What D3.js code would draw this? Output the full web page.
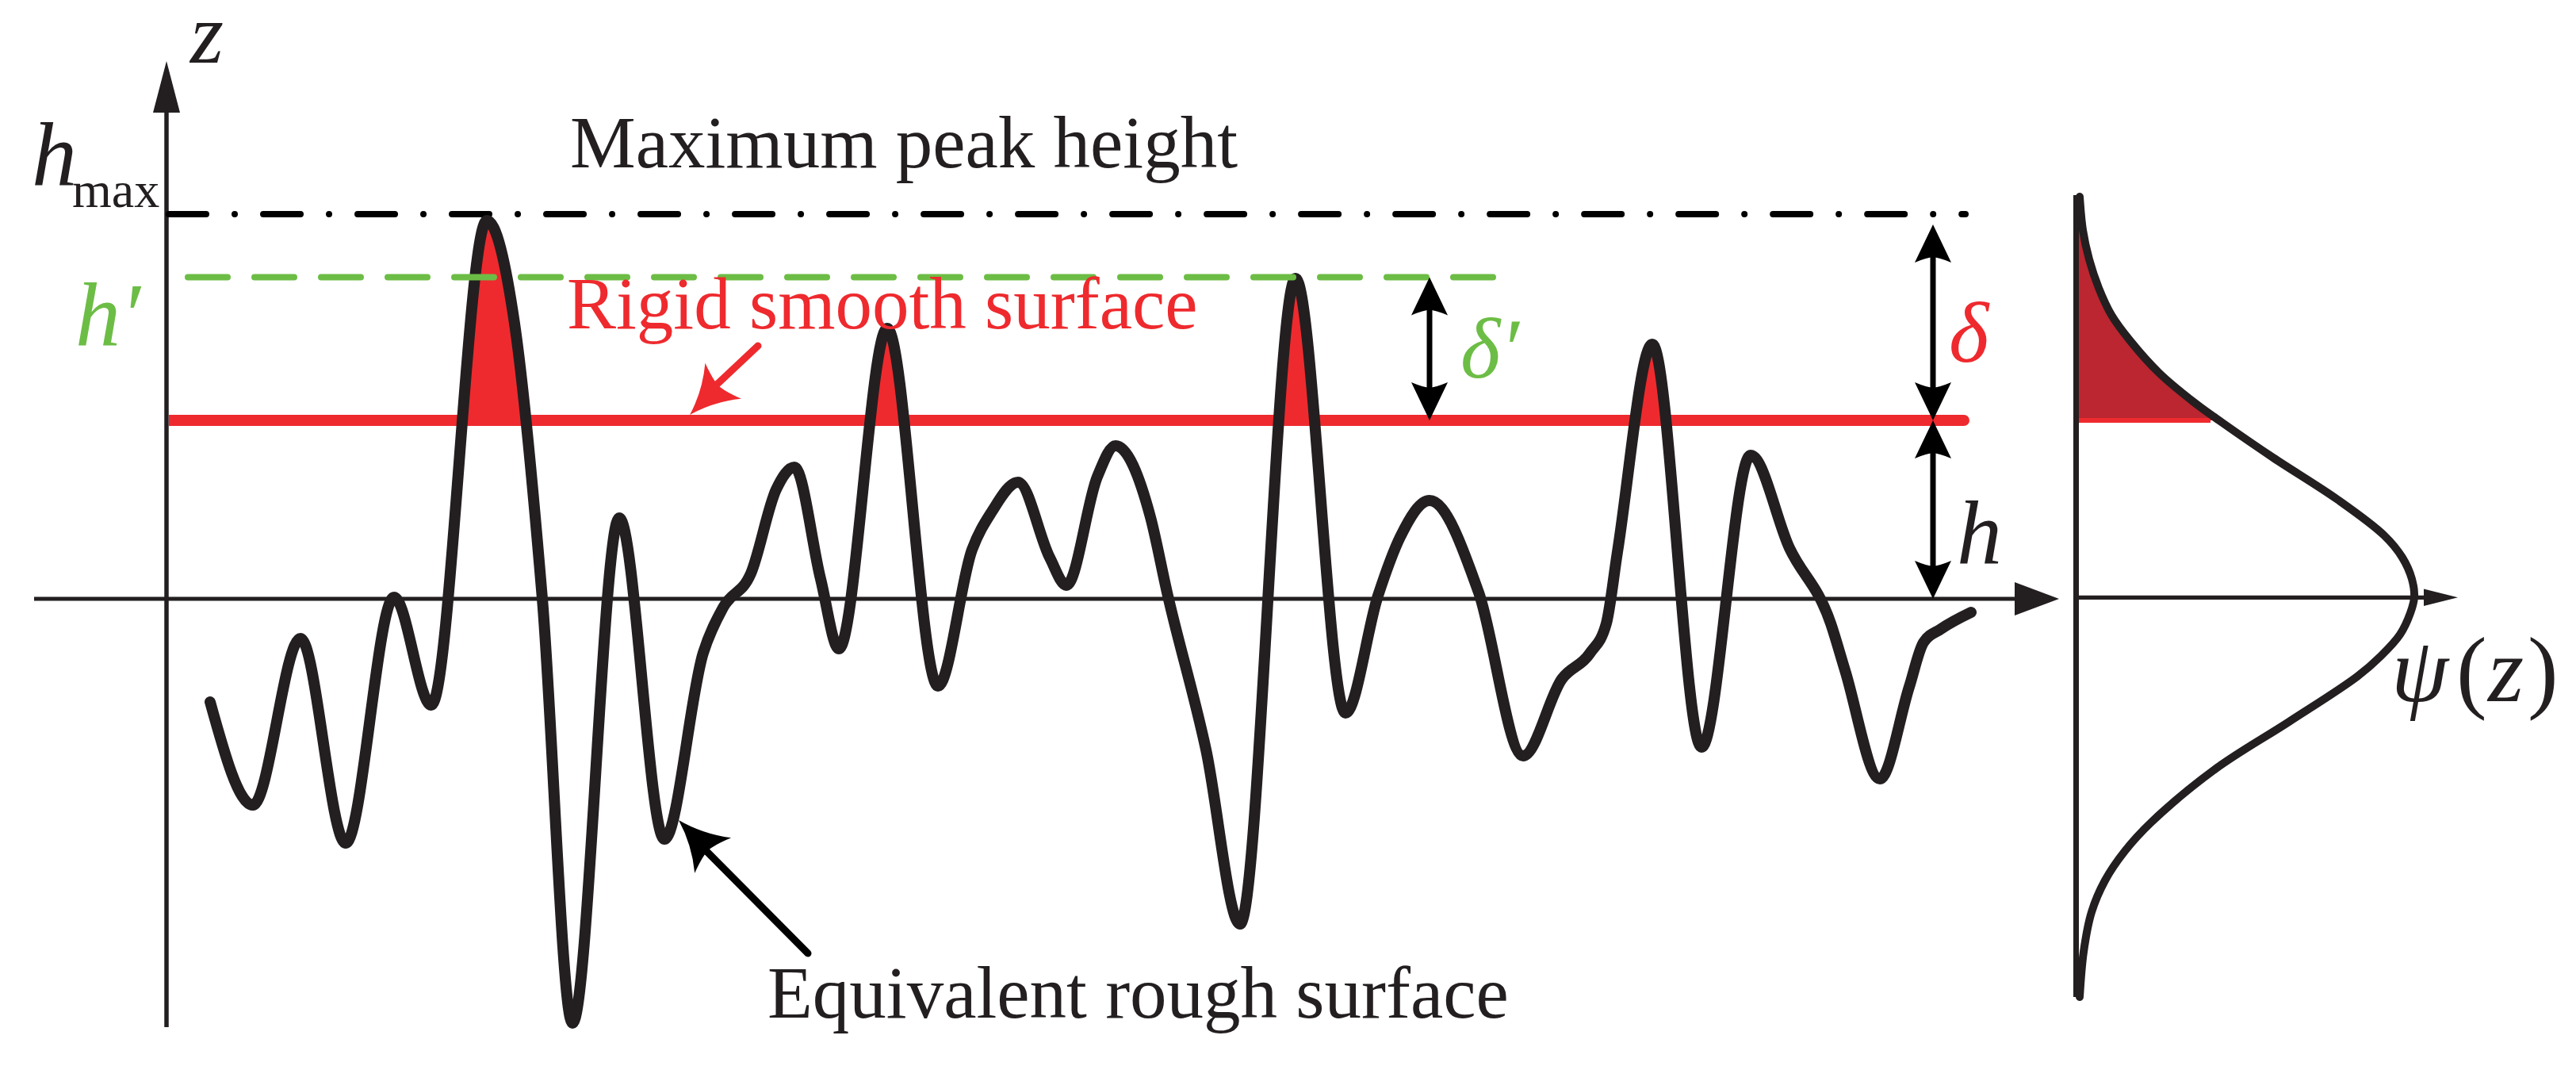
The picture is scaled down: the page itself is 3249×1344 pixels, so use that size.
<!DOCTYPE html>
<html>
<head>
<meta charset="utf-8">
<script src="https://cdn.jsdelivr.net/npm/d3@7"></script>
<style>
body { margin: 0; background: #fff; }
text { font-family: "Liberation Serif", serif; }
</style>
</head>
<body>
<div id="chart"></div>
<script>
// rough surface profile
var surfaceX = [55, 109, 169, 226, 287, 334, 404, 439, 474, 512, 571, 628, 677, 702, 737, 769, 792, 825, 848, 909, 973, 1016, 1041, 1074, 1114, 1135, 1174, 1197, 1241, 1262, 1311, 1354, 1424, 1487, 1528, 1556, 1593, 1655, 1711, 1760, 1795, 1816, 1830, 1874, 1936, 1998, 2047, 2099, 2117, 2161, 2198, 2216, 2238, 2276]
var surfaceZ = [-130, -260, -50, -308, 2, -134, 477, 347, 0, -535, 102, -303, -68, -11, 32, 138, 166, 25, -63, 341, -110, 62, 110, 147, 52, 17, 154, 193, 103, 8, -190, -410, 404, -144, 4, 78, 124, 8, -198, -101, -69, -31, 59, 321, -187, 181, 64, -31, -90, -227, -111, -55, -38, -17]

// height distribution on the right
var psiValue = [4.5, 8.5, 16.5, 28.5, 44.5, 68.5, 104.5, 148.5, 184.5, 248.5, 330, 388.5, 411.5, 423.5, 426.5, 421.5, 408.5, 384.5, 354.5, 268.5, 175, 94.5, 61.5, 36.5, 19.5, 9.5, 4.5]
var psiZ = [507, 465, 428, 392, 358, 325, 285, 248, 222, 178, 125, 80, 52, 25, 2, -18, -45, -72, -98, -155, -215, -282, -318, -355, -395, -445, -502]

// levels
var hMax = 485, hPrime = 405.5, hLevel = 225

var black = "#231f20", red = "#ee2a2e", darkRed = "#bb2630", green = "#6cbd45"

var width = 3249, height = 1344

var xScale = d3.scaleLinear().domain([0, 2270]).range([210, 2480])
var zScale = d3.scaleLinear().domain([0, 485]).range([755, 270])
var psiScale = d3.scaleLinear().domain([0, 426.5]).range([2618.5, 3045])

var surface = d3.range(surfaceX.length).map(function(i){ return [surfaceX[i], surfaceZ[i]] })
var psi = d3.range(psiValue.length).map(function(i){ return [psiValue[i], psiZ[i]] })

var smooth = d3.curveCatmullRom.alpha(0.5)

var svg = d3.select("#chart").append("svg")
    .attr("width", width)
    .attr("height", height)

// clips keep only the part above the rigid surface
var defs = svg.append("defs")
defs.append("clipPath").attr("id", "aboveLeft").append("rect")
    .attr("x", xScale(0)).attr("y", 0)
    .attr("width", xScale(2270) - xScale(0)).attr("height", zScale(hLevel))
defs.append("clipPath").attr("id", "aboveRight").append("rect")
    .attr("x", psiScale(0)).attr("y", 0)
    .attr("width", psiScale(426.5) - psiScale(0)).attr("height", zScale(hLevel))

function rule(x1, y1, x2, y2, color, w){
    return svg.append("line")
        .attr("x1", x1).attr("y1", y1).attr("x2", x2).attr("y2", y2)
        .style("stroke", color).style("stroke-width", w)
}

// arrow head with a hollowed back, bend pulls the sides inward
function head(tip, from, len, half, color, bend){
    var dx = from[0] - tip[0], dy = from[1] - tip[1]
    var d = Math.sqrt(dx * dx + dy * dy)
    var ux = dx / d, uy = dy / d, nx = -uy, ny = ux
    var b1 = [tip[0] + ux * len + nx * half, tip[1] + uy * len + ny * half]
    var b2 = [tip[0] + ux * len - nx * half, tip[1] + uy * len - ny * half]
    var n = [tip[0] + ux * len * 0.86, tip[1] + uy * len * 0.86]
    var c1 = [tip[0] + ux * len * 0.55 + nx * half * (0.55 - bend), tip[1] + uy * len * 0.55 + ny * half * (0.55 - bend)]
    var c2 = [tip[0] + ux * len * 0.55 - nx * half * (0.55 - bend), tip[1] + uy * len * 0.55 - ny * half * (0.55 - bend)]
    var p = d3.path()
    p.moveTo(tip[0], tip[1])
    p.quadraticCurveTo(c1[0], c1[1], b1[0], b1[1])
    p.quadraticCurveTo(n[0] + nx * half * 0.3, n[1] + ny * half * 0.3, n[0], n[1])
    p.quadraticCurveTo(n[0] - nx * half * 0.3, n[1] - ny * half * 0.3, b2[0], b2[1])
    p.quadraticCurveTo(c2[0], c2[1], tip[0], tip[1])
    p.closePath()
    svg.append("path").attr("d", p.toString()).style("fill", color)
}

function solidHead(points, color){
    svg.append("path").attr("d", d3.line()(points) + "Z").style("fill", color)
}

function label(txt, x, y, size, color, italic){
    return svg.append("text")
        .attr("x", x).attr("y", y)
        .style("font-size", size + "px")
        .style("font-style", italic ? "italic" : "normal")
        .style("fill", color)
        .text(txt)
}

// axes of the main plot
rule(43, zScale(0), 2545, zScale(0), black, 5)
solidHead([[2597, zScale(0)], [2541, zScale(0) - 21], [2541, zScale(0) + 21]], black)
rule(xScale(0), 130, xScale(0), 1295, black, 5.5)
solidHead([[xScale(0), 77], [xScale(0) - 17, 142], [xScale(0) + 17, 142]], black)

// reference levels
rule(xScale(0) + 3, zScale(hMax), 2479, zScale(hMax), "#000", 8)
    .style("stroke-linecap", "round")
    .style("stroke-dasharray", "47 36 0.01 36")

rule(xScale(0) + 3, zScale(hLevel), xScale(0) + 20, zScale(hLevel), red, 14)
rule(xScale(0) + 15, zScale(hLevel), 2477, zScale(hLevel), red, 14)
    .style("stroke-linecap", "round")

// contact area
var peakFill = d3.area()
    .x(function(d){ return xScale(d[0]) })
    .y0(zScale(hLevel))
    .y1(function(d){ return zScale(d[1]) })
    .curve(d3.curveMonotoneX)

svg.append("path").datum(surface)
    .attr("d", peakFill)
    .attr("clip-path", "url(#aboveLeft)")
    .style("fill", red)

var surfaceLine = d3.line()
    .x(function(d){ return xScale(d[0]) })
    .y(function(d){ return zScale(d[1]) })
    .curve(d3.curveMonotoneX)

svg.append("path").datum(surface)
    .attr("d", surfaceLine)
    .style("fill", "none")
    .style("stroke", black)
    .style("stroke-width", 14)
    .style("stroke-linecap", "round")
    .style("stroke-linejoin", "round")

rule(237, zScale(hPrime), 1883, zScale(hPrime), green, 8)
    .style("stroke-linecap", "round")
    .style("stroke-dasharray", "50 34")

// dimension arrows
function dimension(x, zTop, zBottom){
    var a = zScale(zTop), b = zScale(zBottom)
    rule(x, a + 30, x, b - 30, "#000", 7)
    head([x, a], [x, b], 48, 23, "#000", 0)
    head([x, b], [x, a], 48, 23, "#000", 0)
}
dimension(xScale(1593), hPrime, hLevel)
dimension(2438, 472, hLevel)
dimension(2438, hLevel, 0)

// leader arrows
rule(956, 436, 890, 498, red, 9).style("stroke-linecap", "round")
head([870, 523], [956, 436], 60, 32, red, 0.25)
rule(1019, 1202, 880, 1062, "#000", 9).style("stroke-linecap", "round")
head([856, 1034], [1019, 1202], 62, 32, "#000", 0.25)

// distribution panel
var psiFill = d3.area()
    .y(function(d){ return zScale(d[1]) })
    .x0(psiScale(0))
    .x1(function(d){ return psiScale(d[0]) })
    .curve(smooth)

svg.append("path").datum(psi)
    .attr("d", psiFill)
    .attr("clip-path", "url(#aboveRight)")
    .style("fill", darkRed)

rule(psiScale(0), zScale(hLevel), 2788, zScale(hLevel), red, 6)
rule(psiScale(0), 246, psiScale(0), 1257, black, 7)
rule(psiScale(0), zScale(0) - 1.7, 3062, zScale(0) - 1.7, black, 5.3)
solidHead([[3100, zScale(0) - 1.7], [3057, zScale(0) - 12.4], [3057, zScale(0) + 9]], black)

svg.append("path").datum(psi)
    .attr("d", d3.line()
        .x(function(d){ return psiScale(d[0]) })
        .y(function(d){ return zScale(d[1]) })
        .curve(smooth))
    .style("fill", "none")
    .style("stroke", black)
    .style("stroke-width", 10)
    .style("stroke-linecap", "round")

// text
label("Maximum peak height", 719, 211, 93, black, false)
label("Rigid smooth surface", 715, 414, 93, red, false)
label("Equivalent rough surface", 968, 1283, 93, black, false)
label("z", 240, 79, 108, black, true)
label("h", 40, 234, 114, black, true)
label("max", 91, 261, 64, black, false)
label("h\u2032", 95, 436, 114, green, true)
label("\u03b4\u2032", 1842, 476, 108, green, true)
label("\u03b4", 2458, 456, 108, red, true)
label("h", 2468, 711, 114, black, true)
label("\u03c8", 3016, 884, 116, black, true)
label("(", 3098, 884, 116, black, false)
label("z", 3138, 884, 116, black, true)
label(")", 3188, 884, 116, black, false)
</script>
</body>
</html>
